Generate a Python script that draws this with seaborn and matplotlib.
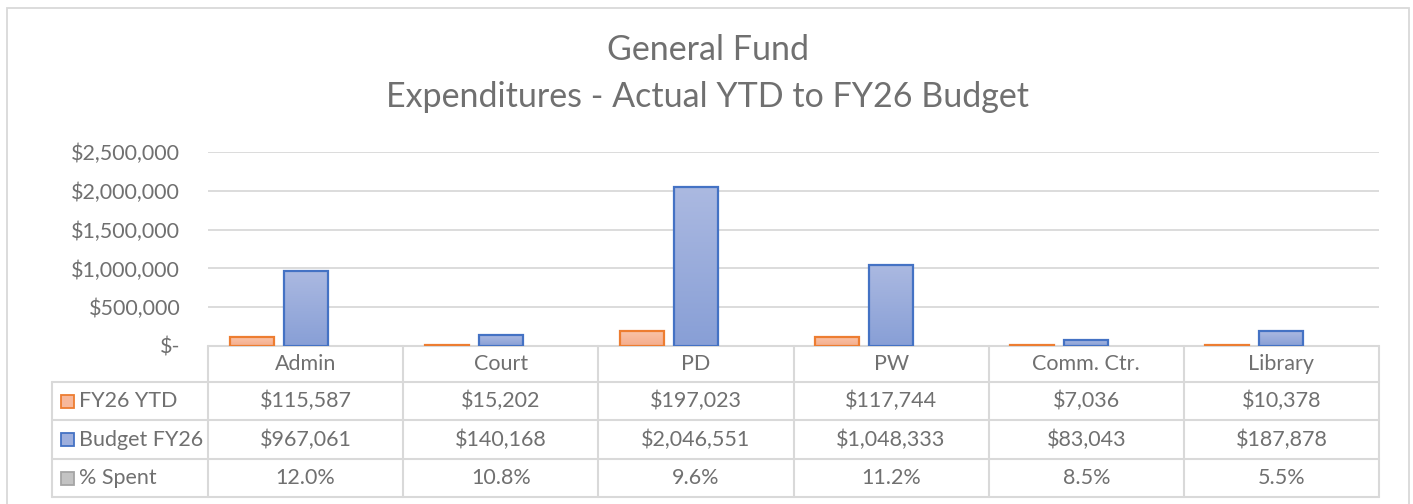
import matplotlib
matplotlib.use("Agg")
import matplotlib.pyplot as plt
from matplotlib.patches import Rectangle
from matplotlib.lines import Line2D
from matplotlib.colors import LinearSegmentedColormap
import numpy as np
import pandas as pd
import seaborn as sns

# ==== data
categories = ['Admin', 'Court', 'PD', 'PW', 'Comm. Ctr.', 'Library']
series = ['FY26 YTD', 'Budget FY26', '% Spent']
ytd = [115587, 15202, 197023, 117744, 7036, 10378]
budget = [967061, 140168, 2046551, 1048333, 83043, 187878]
pct_spent = [0.120, 0.108, 0.096, 0.112, 0.085, 0.055]
yticks = [0, 500000, 1000000, 1500000, 2000000, 2500000]

# ==== style
sns.set_theme(style="white")
plt.rcParams['font.family'] = ['Lato', 'DejaVu Sans']
txt_col = '#707070'
grid_col = '#D9D9D9'
face_cols = ['#F7B89B', '#9EAFDD', '#C3C3C3']
edge_cols = ['#ED7D31', '#4472C4', '#A5A5A5']
# gradient fill of the bars (top, bottom)
grad_cols = [('#F9C4AA', '#F5AD8C'), ('#ABB9E1', '#889FD6'), ('#D0D0D0', '#B5B5B5')]
tickFontSize = 15.5
titleFontSize = 24.5

df = pd.DataFrame({
    'category': categories * 3,
    'series': [s for s in series for _ in categories],
    'value': ytd + budget + pct_spent,
})

fig = plt.figure(figsize=(14.13, 5.04), dpi=100)
W, H = 1413, 504
ax = fig.add_axes([208 / W, 1 - 346 / H, (1379 - 208) / W, (346 - 152) / H])

sns.barplot(data=df, x='category', y='value', hue='series', order=categories,
            hue_order=series, width=0.83, gap=0.185, legend=False, ax=ax,
            linewidth=1.6, saturation=1)

ax.set_xlim(-0.5, len(categories) - 0.5)
ax.set_ylim(0, 2500000)

for cont, (top, bot), ec in zip(ax.containers, grad_cols, edge_cols):
    cmap = LinearSegmentedColormap.from_list('g', [bot, top])
    for p in cont:
        p.set_facecolor('none')
        p.set_edgecolor(ec)
        p.set_zorder(3)
        x0, y0 = p.get_x(), p.get_y()
        w, h = p.get_width(), p.get_height()
        if h < 1000:
            # % Spent values are fractions: too small to show on a $ axis
            p.set_visible(False)
            continue
        im = ax.imshow(np.linspace(0, 1, 64).reshape(-1, 1), cmap=cmap, origin='lower',
                       extent=[x0, x0 + w, y0, y0 + h], aspect='auto', zorder=2)
        im.set_clip_path(p)

ax.set_xlim(-0.5, len(categories) - 0.5)
ax.set_ylim(0, 2500000)
ax.set_yticks(yticks)
ax.set_yticklabels(['$-' if v == 0 else f'${v:,.0f}' for v in yticks],
                   fontsize=tickFontSize, color=txt_col)
ax.tick_params(axis='y', length=0, pad=20)
ax.set_xticks([])
ax.set(xlabel=None, ylabel=None)
ax.grid(axis='y', color=grid_col, linewidth=1.3)
ax.set_axisbelow(True)
for s in ax.spines.values():
    s.set_visible(False)

# ==== data table under the plot
n = len(categories)
row_y = [0, -36 / 194, -74 / 194, -113 / 194, -151 / 194]
left_x = (52 - 208) / (1379 - 208)
lkw = dict(color=grid_col, linewidth=1.5, transform=ax.transAxes, clip_on=False)

ax.add_line(Line2D([0, 1], [row_y[0], row_y[0]], **lkw))
for r in row_y[1:]:
    ax.add_line(Line2D([left_x, 1], [r, r], **lkw))
for i in range(n + 1):
    ax.add_line(Line2D([i / n, i / n], [row_y[0], row_y[-1]], **lkw))
ax.add_line(Line2D([left_x, left_x], [row_y[1], row_y[-1]], **lkw))

tkw = dict(transform=ax.transAxes, fontsize=tickFontSize, color=txt_col,
           va='center', clip_on=False)
for i, c in enumerate(categories):
    ax.text((i + 0.5) / n, (row_y[0] + row_y[1]) / 2, c, ha='center', **tkw)

rows = [[f'${v:,.0f}' for v in ytd],
        [f'${v:,.0f}' for v in budget],
        [f'{v:.1%}' for v in pct_spent]]
for r, (name, vals) in enumerate(zip(series, rows)):
    yc = (row_y[r + 1] + row_y[r + 2]) / 2
    # legend key
    ax.add_patch(Rectangle((left_x + 9 / 1171, yc - 6.5 / 194), 13 / 1171, 13 / 194,
                           facecolor=face_cols[r], edgecolor=edge_cols[r], linewidth=1.3,
                           transform=ax.transAxes, clip_on=False))
    ax.text(left_x + 27 / 1171, yc, name, ha='left', **tkw)
    for i, v in enumerate(vals):
        ax.text((i + 0.5) / n, yc, v, ha='center', **tkw)

# ==== title and chart frame
fig.text(708 / W, 1 - 50 / H, 'General Fund', ha='center', va='center',
         fontsize=titleFontSize, color=txt_col)
fig.text(708 / W, 1 - 97 / H, 'Expenditures - Actual YTD to FY26 Budget', ha='center',
         va='center', fontsize=titleFontSize, color=txt_col)
fig.add_artist(Rectangle((7 / W, -0.02), (1409 - 7) / W, 1.02 - 8 / H, fill=False,
                         edgecolor=grid_col, linewidth=1.3, transform=fig.transFigure))

plt.savefig('out.png', dpi=100)
plt.close()
